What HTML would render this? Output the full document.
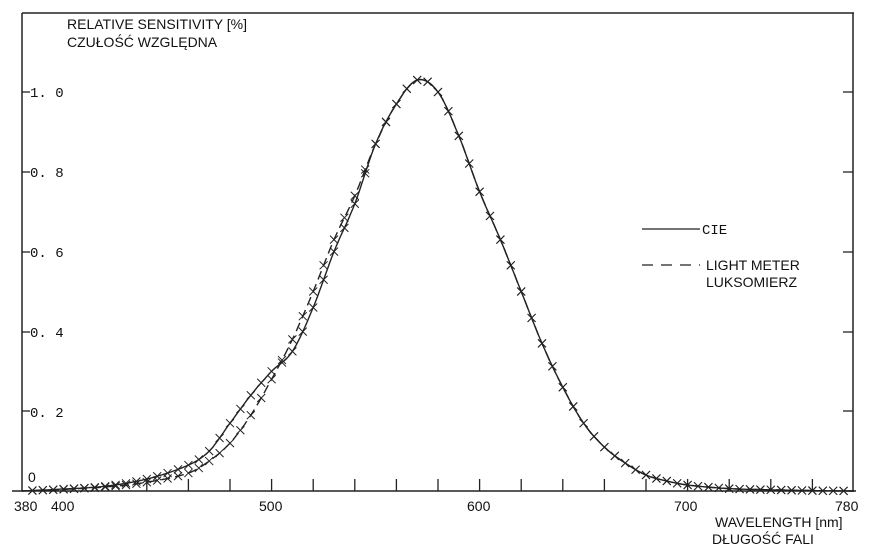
<!DOCTYPE html>
<html><head><meta charset="utf-8"><style>
html,body{margin:0;padding:0;background:#fff;}
svg{display:block;}
text{font-family:"Liberation Sans",sans-serif;fill:#111;}
.m{font-family:"Liberation Mono","DejaVu Sans Mono",monospace;}
</style></head><body>
<svg id="s" width="876" height="554" viewBox="0 0 876 554" xmlns="http://www.w3.org/2000/svg">
<g stroke="#222" stroke-width="1.5" fill="none">
<line x1="22" y1="13" x2="854" y2="13"/>
<line x1="22" y1="13" x2="22" y2="491"/>
<line x1="853" y1="13" x2="853" y2="491"/>
<line x1="12" y1="491" x2="856" y2="491"/>
</g>
<text x="67" y="29" font-size="14">RELATIVE SENSITIVITY [%]</text>
<text x="67" y="47" font-size="14">CZUŁOŚĆ WZGLĘDNA</text>
<text class="m" x="30" y="97" font-size="14">1. 0</text>
<text class="m" x="30" y="177" font-size="14">0. 8</text>
<text class="m" x="30" y="257" font-size="14">0. 6</text>
<text class="m" x="30" y="337" font-size="14">0. 4</text>
<text class="m" x="30" y="417" font-size="14">0. 2</text>
<text x="28" y="482" font-size="14">0</text>
<text x="14" y="511" font-size="14">380</text>
<text x="51" y="511" font-size="14">400</text>
<text x="259" y="511" font-size="14">500</text>
<text x="467" y="511" font-size="14">600</text>
<text x="674" y="511" font-size="14">700</text>
<text x="835" y="511" font-size="14">780</text>
<text x="715" y="527" font-size="14">WAVELENGTH [nm]</text>
<text x="712" y="544" font-size="14">DŁUGOŚĆ FALI</text>
<line x1="642" y1="229" x2="700" y2="229" stroke="#222" stroke-width="1.3"/>
<text class="m" x="702" y="234" font-size="14">CIE</text>
<line x1="642" y1="265" x2="700" y2="265" stroke="#222" stroke-width="1.3" stroke-dasharray="11,8"/>
<text x="706" y="270" font-size="14">LIGHT METER</text>
<text x="706" y="287" font-size="14">LUKSOMIERZ</text>
<g id="g" stroke="#222" fill="none"></g>
</svg>
<script>
var g=document.getElementById('g'),NS='http://www.w3.org/2000/svg';
function X(l){return 22+(l-380)*2.08;}
function Y(v){return 491-v*399;}
function add(t,a){var e=document.createElementNS(NS,t);for(var k in a)e.setAttribute(k,a[k]);g.appendChild(e);return e;}
[92,172,252,332,411].forEach(function(y){add('line',{x1:22,y1:y,x2:30,y2:y,'stroke-width':1.3});add('line',{x1:843,y1:y,x2:853,y2:y,'stroke-width':1.3});});
for(var l=440;l<780;l+=20){add('line',{x1:X(l),y1:479,x2:X(l),y2:491,'stroke-width':1.3});}
var cie=[[380,0],[400,.005],[420,.012],[440,.03],[460,.065],[470,.1],[480,.17],[490,.24],[500,.3],[510,.35],[520,.46],[530,.6],[540,.72],[550,.87],[560,.97],[570,1.03],[580,1.0],[590,.89],[600,.75],[610,.63],[620,.5],[630,.37],[640,.26],[650,.17],[660,.11],[670,.07],[680,.04],[690,.025],[700,.015],[720,.006],[740,.003],[760,.001],[780,0]];
var lm=[[380,0],[400,.004],[420,.01],[440,.022],[460,.045],[470,.075],[480,.12],[490,.19],[500,.28],[510,.38],[520,.5],[530,.63],[540,.74],[550,.87],[560,.97],[570,1.03],[580,1.0],[590,.89],[600,.75],[610,.63],[620,.5],[630,.37],[640,.26],[650,.17],[660,.11],[670,.07],[680,.04],[690,.025],[700,.015],[720,.006],[740,.003],[760,.001],[780,0]];
function interp(d,l){for(var i=0;i<d.length-1;i++){if(l<=d[i+1][0]){var p0=d[Math.max(0,i-1)],p1=d[i],p2=d[i+1],p3=d[Math.min(d.length-1,i+2)];var t=(l-p1[0])/(p2[0]-p1[0]);var m1=(p2[1]-p0[1])/(p2[0]-p0[0])*(p2[0]-p1[0]),m2=(p3[1]-p1[1])/(p3[0]-p1[0])*(p2[0]-p1[0]);var t2=t*t,t3=t2*t;return (2*t3-3*t2+1)*p1[1]+(t3-2*t2+t)*m1+(-2*t3+3*t2)*p2[1]+(t3-t2)*m2;}}return 0;}
function draw(d,dash){var s='';for(var l=380;l<=780;l+=1){s+=(l==380?'M':'L')+X(l).toFixed(1)+','+Y(Math.max(0,interp(d,l))).toFixed(1);}var a={d:s,'stroke-width':1.4};if(dash)a['stroke-dasharray']='9,5';add('path',a);
for(var l=385;l<=775;l+=5){var x=X(l),y=Y(Math.max(0,interp(d,l)));add('path',{d:'M'+(x-4)+','+(y-4)+'L'+(x+4)+','+(y+4)+'M'+(x-4)+','+(y+4)+'L'+(x+4)+','+(y-4),'stroke-width':1});}}
draw(cie,false);draw(lm,true);
</script>
</body></html>
